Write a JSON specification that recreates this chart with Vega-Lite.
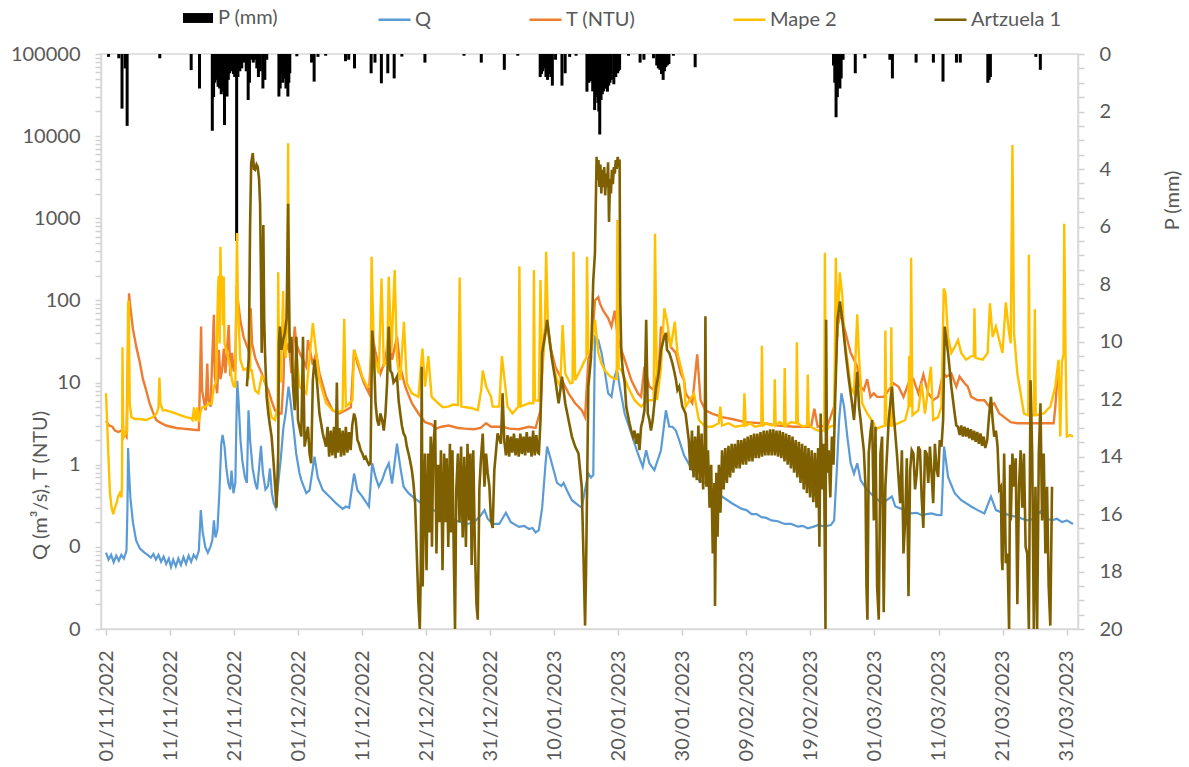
{
"$schema":"https://vega.github.io/schema/vega-lite/v6.json",
"width":977,"height":575,
"autosize":"none",
"padding":{"left":101,"top":54,"right":111,"bottom":138},
"background":"white",
"config":{
"font":"Lato",
"view":{"stroke":"#d9d9d9","strokeWidth":1.5},
"axis":{"labelFont":"Lato","labelFontSize":20,"labelColor":"#595959","titleFont":"Lato","titleFontSize":20,"titleColor":"#595959","titleFontWeight":"normal","domainColor":"#d9d9d9","domainWidth":1.5,"tickColor":"#d0d0d0","tickWidth":1.5,"tickSize":6,"labelPadding":15,"grid":false},
"legend":{"labelFont":"Lato","labelFontSize":20,"labelColor":"#595959"}
},
"datasets":{
"P":[{"d":0.4,"p":0.1},{"d":2.0,"p":0.15},{"d":2.5,"p":1.9},{"d":3.0,"p":0.5},{"d":3.3,"p":2.5},{"d":8.4,"p":0.15},{"d":13.3,"p":0.56},{"d":14.6,"p":1.2},{"d":16.6,"p":2.67},{"d":16.8,"p":1.5},{"d":17.0,"p":1.0},{"d":17.25,"p":0.9},{"d":17.5,"p":1.14},{"d":17.75,"p":1.2},{"d":18.0,"p":1.4},{"d":18.25,"p":1.3},{"d":18.5,"p":2.47},{"d":18.7,"p":1.0},{"d":18.9,"p":1.48},{"d":19.1,"p":0.9},{"d":19.3,"p":0.67},{"d":19.5,"p":0.6},{"d":19.7,"p":0.55},{"d":19.9,"p":0.7},{"d":20.1,"p":0.8},{"d":20.4,"p":6.5},{"d":20.6,"p":0.8},{"d":20.9,"p":0.6},{"d":21.2,"p":0.5},{"d":21.6,"p":0.3},{"d":21.9,"p":0.6},{"d":22.2,"p":1.6},{"d":22.4,"p":1.0},{"d":22.6,"p":0.2},{"d":23.0,"p":0.3},{"d":23.3,"p":0.2},{"d":23.55,"p":0.5},{"d":23.8,"p":0.8},{"d":24.1,"p":0.6},{"d":24.5,"p":1.2},{"d":24.8,"p":0.9},{"d":25.1,"p":0.2},{"d":27.0,"p":1.48},{"d":27.2,"p":1.2},{"d":27.4,"p":0.67},{"d":27.6,"p":1.0},{"d":27.9,"p":0.85},{"d":28.1,"p":1.2},{"d":28.4,"p":1.48},{"d":28.55,"p":1.0},{"d":28.7,"p":0.67},{"d":29.8,"p":0.08},{"d":32.1,"p":0.3},{"d":32.5,"p":0.96},{"d":33.1,"p":0.1},{"d":34.3,"p":0.06},{"d":37.4,"p":0.25},{"d":37.9,"p":0.2},{"d":38.8,"p":0.5},{"d":41.4,"p":0.67},{"d":42.0,"p":0.3},{"d":43.0,"p":1.02},{"d":44.0,"p":0.67},{"d":45.0,"p":0.85},{"d":46.2,"p":0.09},{"d":49.8,"p":0.3},{"d":55.9,"p":0.06},{"d":58.6,"p":0.3},{"d":62.2,"p":0.55},{"d":64.3,"p":0.06},{"d":67.8,"p":0.8},{"d":68.0,"p":0.7},{"d":68.2,"p":0.6},{"d":68.45,"p":0.5},{"d":68.7,"p":0.8},{"d":68.95,"p":0.9},{"d":69.2,"p":0.7},{"d":69.45,"p":0.8},{"d":69.7,"p":1.1},{"d":70.2,"p":0.2},{"d":71.2,"p":1.1},{"d":71.7,"p":0.67},{"d":72.4,"p":0.1},{"d":73.4,"p":0.06},{"d":75.1,"p":1.31},{"d":75.4,"p":1.0},{"d":75.7,"p":0.95},{"d":76.0,"p":1.3},{"d":76.3,"p":1.95},{"d":76.55,"p":1.5},{"d":76.8,"p":1.7},{"d":76.95,"p":2.0},{"d":77.1,"p":2.8},{"d":77.3,"p":1.6},{"d":77.5,"p":1.4},{"d":77.7,"p":1.3},{"d":77.9,"p":1.2},{"d":78.1,"p":1.2},{"d":78.3,"p":1.31},{"d":78.5,"p":1.1},{"d":78.7,"p":1.0},{"d":78.9,"p":0.9},{"d":79.3,"p":1.05},{"d":79.6,"p":0.8},{"d":79.9,"p":0.67},{"d":80.0,"p":0.6},{"d":80.2,"p":0.55},{"d":81.6,"p":0.06},{"d":83.4,"p":0.3},{"d":84.0,"p":0.2},{"d":85.5,"p":0.15},{"d":86.0,"p":0.4},{"d":86.25,"p":0.5},{"d":86.5,"p":0.55},{"d":86.75,"p":0.7},{"d":87.0,"p":0.9},{"d":87.2,"p":0.6},{"d":87.4,"p":0.46},{"d":87.65,"p":0.4},{"d":87.9,"p":0.35},{"d":88.6,"p":0.06},{"d":92.0,"p":0.46},{"d":113.6,"p":0.4},{"d":113.8,"p":1.0},{"d":114.0,"p":2.2},{"d":114.2,"p":1.5},{"d":114.4,"p":1.0},{"d":114.6,"p":1.2},{"d":114.8,"p":0.85},{"d":115.1,"p":0.2},{"d":117.0,"p":0.67},{"d":118.5,"p":0.15},{"d":122.4,"p":0.2},{"d":122.8,"p":0.85},{"d":126.5,"p":0.3},{"d":129.2,"p":0.3},{"d":130.7,"p":0.96},{"d":132.8,"p":0.3},{"d":133.4,"p":0.3},{"d":137.7,"p":1.0},{"d":137.9,"p":0.9},{"d":138.1,"p":0.8},{"d":145.2,"p":0.1},{"d":145.9,"p":0.55}],
"Q":[{"d":0,"v":0.085},{"d":0.4,"v":0.07},{"d":0.8,"v":0.08},{"d":1.2,"v":0.065},{"d":1.6,"v":0.078},{"d":2.0,"v":0.068},{"d":2.4,"v":0.08},{"d":2.8,"v":0.072},{"d":3.2,"v":0.09},{"d":3.35,"v":0.3},{"d":3.45,"v":1.6},{"d":3.6,"v":0.8},{"d":3.8,"v":0.4},{"d":4.2,"v":0.2},{"d":4.7,"v":0.12},{"d":5.3,"v":0.095},{"d":6.0,"v":0.085},{"d":6.5,"v":0.08},{"d":7.0,"v":0.074},{"d":7.4,"v":0.082},{"d":7.8,"v":0.07},{"d":8.2,"v":0.08},{"d":8.6,"v":0.066},{"d":9.0,"v":0.076},{"d":9.4,"v":0.062},{"d":9.8,"v":0.072},{"d":10.15,"v":0.057},{"d":10.5,"v":0.07},{"d":10.9,"v":0.058},{"d":11.3,"v":0.072},{"d":11.7,"v":0.06},{"d":12.1,"v":0.075},{"d":12.5,"v":0.062},{"d":12.9,"v":0.078},{"d":13.3,"v":0.066},{"d":13.7,"v":0.08},{"d":14.1,"v":0.072},{"d":14.5,"v":0.09},{"d":14.8,"v":0.28},{"d":15.1,"v":0.15},{"d":15.5,"v":0.1},{"d":15.9,"v":0.085},{"d":16.3,"v":0.1},{"d":16.6,"v":0.12},{"d":16.85,"v":0.21},{"d":17.1,"v":0.13},{"d":17.4,"v":0.16},{"d":17.7,"v":0.45},{"d":18.0,"v":1.8},{"d":18.2,"v":2.3},{"d":18.5,"v":1.7},{"d":18.8,"v":0.9},{"d":19.1,"v":0.6},{"d":19.4,"v":0.5},{"d":19.6,"v":0.85},{"d":19.9,"v":0.45},{"d":20.2,"v":0.6},{"d":20.35,"v":3},{"d":20.5,"v":10.5},{"d":20.7,"v":6},{"d":21.0,"v":2},{"d":21.3,"v":1.1},{"d":21.7,"v":0.7},{"d":22.0,"v":0.6},{"d":22.25,"v":4.6},{"d":22.5,"v":2},{"d":22.9,"v":0.9},{"d":23.3,"v":0.6},{"d":23.6,"v":0.5},{"d":23.9,"v":0.9},{"d":24.2,"v":1.7},{"d":24.5,"v":0.8},{"d":24.9,"v":0.5},{"d":25.3,"v":0.55},{"d":25.6,"v":0.9},{"d":25.9,"v":0.45},{"d":26.2,"v":0.34},{"d":26.5,"v":0.3},{"d":26.9,"v":0.6},{"d":27.3,"v":1.2},{"d":27.7,"v":2.8},{"d":28.1,"v":4.5},{"d":28.5,"v":8.9},{"d":28.8,"v":6},{"d":29.2,"v":3.2},{"d":29.7,"v":1.37},{"d":30.2,"v":0.8},{"d":30.5,"v":0.65},{"d":31.27,"v":0.45},{"d":31.79,"v":0.49},{"d":32.56,"v":1.25},{"d":33.07,"v":0.7},{"d":33.85,"v":0.49},{"d":34.88,"v":0.41},{"d":35.91,"v":0.34},{"d":36.94,"v":0.29},{"d":37.45,"v":0.31},{"d":37.97,"v":0.3},{"d":38.74,"v":0.78},{"d":39.26,"v":0.49},{"d":40.03,"v":0.41},{"d":41.06,"v":0.31},{"d":41.57,"v":1.04},{"d":42.09,"v":0.71},{"d":42.6,"v":0.54},{"d":43.12,"v":0.65},{"d":43.64,"v":0.86},{"d":44.15,"v":1.04},{"d":44.67,"v":0.59},{"d":45.44,"v":1.8},{"d":45.95,"v":0.94},{"d":46.47,"v":0.54},{"d":47.24,"v":0.45},{"d":48.0,"v":0.4},{"d":48.8,"v":0.36},{"d":49.6,"v":0.32},{"d":50.5,"v":0.3},{"d":51.5,"v":0.27},{"d":52.5,"v":0.25},{"d":53.5,"v":0.23},{"d":54.5,"v":0.21},{"d":55.5,"v":0.2},{"d":56.5,"v":0.19},{"d":57.5,"v":0.2},{"d":58.5,"v":0.24},{"d":59.1,"v":0.28},{"d":59.6,"v":0.22},{"d":60.38,"v":0.19},{"d":61.41,"v":0.19},{"d":62.44,"v":0.26},{"d":63.21,"v":0.2},{"d":64.5,"v":0.175},{"d":65.3,"v":0.18},{"d":66.05,"v":0.165},{"d":66.6,"v":0.17},{"d":67.08,"v":0.15},{"d":67.59,"v":0.16},{"d":68.11,"v":0.3},{"d":68.62,"v":1.0},{"d":68.88,"v":1.66},{"d":69.4,"v":1.2},{"d":70.43,"v":0.6},{"d":71.1,"v":0.55},{"d":71.46,"v":0.6},{"d":71.97,"v":0.49},{"d":72.75,"v":0.37},{"d":73.78,"v":0.32},{"d":74.29,"v":0.3},{"d":74.81,"v":0.5},{"d":75.32,"v":0.78},{"d":75.73,"v":0.7},{"d":76.09,"v":0.75},{"d":76.35,"v":36},{"d":76.87,"v":33},{"d":77.38,"v":23},{"d":77.9,"v":13.5},{"d":78.41,"v":7.4},{"d":78.93,"v":6.7},{"d":79.44,"v":12},{"d":79.8,"v":14.5},{"d":80.22,"v":8.9},{"d":80.99,"v":4.2},{"d":82.02,"v":2.4},{"d":83.05,"v":1.37},{"d":83.82,"v":0.94},{"d":84.34,"v":1.5},{"d":84.85,"v":1.04},{"d":85.63,"v":0.86},{"d":86.66,"v":1.5},{"d":87.43,"v":4.6},{"d":87.95,"v":2.9},{"d":88.46,"v":2.9},{"d":88.98,"v":2.6},{"d":89.5,"v":2.0},{"d":90.26,"v":1.3},{"d":91.55,"v":0.86},{"d":92.58,"v":0.65},{"d":93.61,"v":0.6},{"d":94.64,"v":0.49},{"d":96.19,"v":0.41},{"d":97.73,"v":0.34},{"d":99.28,"v":0.29},{"d":100.0,"v":0.28},{"d":100.82,"v":0.25},{"d":101.6,"v":0.25},{"d":102.37,"v":0.23},{"d":103.1,"v":0.225},{"d":103.92,"v":0.21},{"d":104.9,"v":0.205},{"d":105.98,"v":0.19},{"d":107.0,"v":0.19},{"d":108.04,"v":0.176},{"d":108.8,"v":0.18},{"d":109.58,"v":0.168},{"d":110.4,"v":0.175},{"d":111.13,"v":0.184},{"d":112.2,"v":0.178},{"d":113.19,"v":0.184},{"d":113.7,"v":0.21},{"d":114.12,"v":0.86},{"d":114.48,"v":3.5},{"d":114.84,"v":7.4},{"d":115.25,"v":5.1},{"d":115.76,"v":2.2},{"d":116.28,"v":1.04},{"d":116.8,"v":0.78},{"d":117.31,"v":1.04},{"d":117.83,"v":0.65},{"d":118.86,"v":0.49},{"d":120.4,"v":0.38},{"d":121.19,"v":0.34},{"d":122.73,"v":0.41},{"d":123.25,"v":0.31},{"d":124.79,"v":0.28},{"d":125.82,"v":0.255},{"d":126.6,"v":0.26},{"d":127.37,"v":0.244},{"d":128.1,"v":0.25},{"d":128.91,"v":0.255},{"d":129.7,"v":0.245},{"d":130.46,"v":0.244},{"d":130.87,"v":1.66},{"d":131.49,"v":0.71},{"d":132.52,"v":0.45},{"d":133.55,"v":0.37},{"d":135.1,"v":0.31},{"d":136.1,"v":0.28},{"d":137.16,"v":0.255},{"d":138.19,"v":0.41},{"d":138.96,"v":0.28},{"d":140.25,"v":0.255},{"d":141.3,"v":0.24},{"d":142.31,"v":0.23},{"d":143.85,"v":0.21},{"d":145.0,"v":0.22},{"d":145.92,"v":0.27},{"d":146.95,"v":0.22},{"d":147.7,"v":0.21},{"d":148.49,"v":0.22},{"d":149.3,"v":0.2},{"d":150.04,"v":0.21},{"d":151,"v":0.19}],
"T":[{"d":0,"v":3.4},{"d":0.5,"v":3.0},{"d":1.0,"v":2.9},{"d":1.4,"v":2.6},{"d":1.9,"v":2.5},{"d":2.4,"v":2.6},{"d":2.9,"v":2.4},{"d":3.2,"v":2.2},{"d":3.45,"v":30},{"d":3.6,"v":122},{"d":3.75,"v":90},{"d":4.2,"v":45},{"d":4.74,"v":27},{"d":5.25,"v":18},{"d":5.77,"v":11},{"d":6.28,"v":8},{"d":6.8,"v":5.6},{"d":7.31,"v":4.4},{"d":7.83,"v":3.5},{"d":8.34,"v":3.3},{"d":9.37,"v":3.0},{"d":10.15,"v":2.9},{"d":11.0,"v":2.8},{"d":12.0,"v":2.75},{"d":13.0,"v":2.7},{"d":14.0,"v":2.65},{"d":14.5,"v":2.65},{"d":14.75,"v":20},{"d":14.85,"v":48},{"d":15.0,"v":8},{"d":15.56,"v":4.6},{"d":15.81,"v":17},{"d":16.0,"v":6},{"d":16.33,"v":5.1},{"d":16.84,"v":67},{"d":17.0,"v":12},{"d":17.36,"v":7.4},{"d":17.62,"v":25},{"d":17.87,"v":11},{"d":18.13,"v":14},{"d":18.39,"v":26},{"d":18.65,"v":13},{"d":18.9,"v":25},{"d":19.16,"v":50},{"d":19.42,"v":12},{"d":19.68,"v":23},{"d":19.94,"v":14},{"d":20.19,"v":14},{"d":20.4,"v":150},{"d":20.6,"v":100},{"d":20.97,"v":58},{"d":21.48,"v":36},{"d":21.99,"v":28},{"d":22.5,"v":22},{"d":22.6,"v":80},{"d":22.8,"v":30},{"d":23.3,"v":20},{"d":23.8,"v":16},{"d":24.31,"v":13},{"d":24.8,"v":10},{"d":25.35,"v":8.1},{"d":25.86,"v":6},{"d":26.38,"v":4.6},{"d":26.89,"v":4.2},{"d":27.4,"v":4.2},{"d":27.7,"v":10},{"d":27.92,"v":40},{"d":28.2,"v":25},{"d":28.44,"v":30},{"d":28.69,"v":23},{"d":28.95,"v":13},{"d":29.21,"v":25},{"d":29.47,"v":48},{"d":29.7,"v":30},{"d":30.24,"v":23},{"d":31.27,"v":15.6},{"d":31.53,"v":33},{"d":32.3,"v":16.5},{"d":32.82,"v":23},{"d":33.33,"v":13},{"d":34.36,"v":6.7},{"d":35.39,"v":4.6},{"d":36.42,"v":4.2},{"d":37.45,"v":4.6},{"d":38.23,"v":5},{"d":38.74,"v":25},{"d":39.26,"v":17},{"d":39.77,"v":12.9},{"d":40.29,"v":9.8},{"d":41.06,"v":7.4},{"d":41.57,"v":40},{"d":42.09,"v":23},{"d":42.86,"v":12.9},{"d":43.64,"v":19},{"d":44.15,"v":40},{"d":44.67,"v":19},{"d":45.44,"v":36},{"d":45.95,"v":15.6},{"d":46.73,"v":8.9},{"d":47.76,"v":5.6},{"d":48.79,"v":4.2},{"d":49.82,"v":3.3},{"d":50.85,"v":3.1},{"d":51.5,"v":2.75},{"d":52.39,"v":2.9},{"d":53.5,"v":3.0},{"d":54.97,"v":2.8},{"d":56.0,"v":2.75},{"d":57.54,"v":2.7},{"d":58.5,"v":2.8},{"d":59.35,"v":3.2},{"d":60.12,"v":2.9},{"d":61.93,"v":2.9},{"d":63.0,"v":2.75},{"d":64.5,"v":2.7},{"d":66.0,"v":2.9},{"d":67.08,"v":2.8},{"d":67.85,"v":4.6},{"d":68.37,"v":36},{"d":68.88,"v":58},{"d":69.4,"v":27},{"d":70.17,"v":15.6},{"d":71.2,"v":10.7},{"d":72.23,"v":7.4},{"d":73.26,"v":5.6},{"d":74.29,"v":4.6},{"d":74.81,"v":3.8},{"d":75.32,"v":19},{"d":75.84,"v":27},{"d":76.35,"v":100},{"d":76.87,"v":110},{"d":77.12,"v":92},{"d":77.64,"v":75},{"d":78.41,"v":61},{"d":78.93,"v":48},{"d":79.44,"v":75},{"d":79.96,"v":33},{"d":80.99,"v":19},{"d":82.02,"v":10.7},{"d":83.05,"v":7.4},{"d":83.56,"v":6.7},{"d":84.08,"v":15.6},{"d":84.85,"v":8.9},{"d":85.63,"v":8.1},{"d":86.4,"v":19},{"d":86.66,"v":48},{"d":87.17,"v":36},{"d":87.69,"v":40},{"d":88.2,"v":27},{"d":88.98,"v":23},{"d":89.75,"v":12.9},{"d":90.26,"v":10.7},{"d":90.52,"v":7.4},{"d":91.55,"v":5.6},{"d":92.32,"v":22},{"d":92.84,"v":6.1},{"d":93.61,"v":4.6},{"d":94.64,"v":4.2},{"d":96.19,"v":3.8},{"d":97.73,"v":3.6},{"d":99.79,"v":3.3},{"d":102.37,"v":3.2},{"d":104.95,"v":3.0},{"d":107.52,"v":2.9},{"d":110.1,"v":2.9},{"d":110.61,"v":4.8},{"d":111.13,"v":2.9},{"d":112.67,"v":3.0},{"d":113.7,"v":5.1},{"d":114.22,"v":48},{"d":114.73,"v":70},{"d":115.25,"v":48},{"d":115.76,"v":33},{"d":116.28,"v":23},{"d":116.8,"v":19},{"d":117.31,"v":15.6},{"d":117.83,"v":8.9},{"d":118.34,"v":8.1},{"d":118.86,"v":11},{"d":119.37,"v":6.7},{"d":119.89,"v":7.4},{"d":120.4,"v":6.7},{"d":120.67,"v":6.7},{"d":121.44,"v":6.7},{"d":122.22,"v":8.1},{"d":122.99,"v":9.8},{"d":123.76,"v":8.9},{"d":124.53,"v":6.7},{"d":125.31,"v":9.8},{"d":126.08,"v":11},{"d":126.85,"v":7.4},{"d":127.63,"v":12.5},{"d":128.4,"v":7.4},{"d":129.17,"v":6.1},{"d":129.94,"v":6.7},{"d":130.72,"v":13},{"d":131.23,"v":11.8},{"d":132.0,"v":12.9},{"d":132.78,"v":8.9},{"d":133.29,"v":11.8},{"d":134.07,"v":9.8},{"d":134.58,"v":8.9},{"d":135.1,"v":6.7},{"d":136.13,"v":6.1},{"d":137.16,"v":6.1},{"d":137.93,"v":5.1},{"d":138.7,"v":5.6},{"d":139.48,"v":4.2},{"d":140.25,"v":3.8},{"d":141.28,"v":3.3},{"d":142.31,"v":3.2},{"d":144.37,"v":3.2},{"d":146.43,"v":3.2},{"d":147.98,"v":3.2},{"d":148.23,"v":5},{"d":148.5,"v":10},{"d":148.8,"v":13}],
"M":[{"d":0,"v":7.4},{"d":0.2,"v":3},{"d":0.36,"v":1.37},{"d":0.62,"v":0.45},{"d":0.87,"v":0.3},{"d":1.13,"v":0.25},{"d":1.39,"v":0.3},{"d":1.65,"v":0.34},{"d":1.9,"v":0.41},{"d":2.16,"v":0.45},{"d":2.42,"v":0.4},{"d":2.5,"v":0.6},{"d":2.57,"v":27},{"d":2.68,"v":3},{"d":2.83,"v":2.2},{"d":3.09,"v":2.4},{"d":3.3,"v":2.6},{"d":3.45,"v":90},{"d":3.55,"v":100},{"d":3.71,"v":5.6},{"d":3.96,"v":3.8},{"d":4.5,"v":3.6},{"d":5.25,"v":3.6},{"d":6.28,"v":3.5},{"d":7.31,"v":3.8},{"d":7.9,"v":4.2},{"d":8.2,"v":5},{"d":8.34,"v":11.5},{"d":8.5,"v":5.6},{"d":8.86,"v":4.6},{"d":9.37,"v":4.6},{"d":10.15,"v":4.4},{"d":10.92,"v":4.2},{"d":11.69,"v":4},{"d":12.47,"v":3.8},{"d":13.24,"v":3.7},{"d":13.5,"v":3.5},{"d":13.75,"v":5},{"d":14.0,"v":3.4},{"d":14.27,"v":5},{"d":14.5,"v":3.3},{"d":14.78,"v":4.5},{"d":15.04,"v":5},{"d":15.56,"v":5.1},{"d":16.07,"v":5.6},{"d":16.5,"v":5.5},{"d":16.84,"v":8.9},{"d":17.2,"v":10},{"d":17.36,"v":48},{"d":17.5,"v":147},{"d":17.62,"v":200},{"d":17.75,"v":30},{"d":17.87,"v":450},{"d":18.0,"v":100},{"d":18.13,"v":200},{"d":18.25,"v":50},{"d":18.39,"v":194},{"d":18.5,"v":30},{"d":18.65,"v":27},{"d":18.9,"v":23},{"d":19.16,"v":19},{"d":19.42,"v":15},{"d":19.68,"v":10.7},{"d":19.94,"v":9},{"d":20.19,"v":8.9},{"d":20.35,"v":100},{"d":20.45,"v":660},{"d":20.6,"v":92},{"d":20.97,"v":19},{"d":21.48,"v":14.2},{"d":21.99,"v":15},{"d":22.25,"v":11},{"d":22.4,"v":80},{"d":22.55,"v":14},{"d":22.77,"v":14},{"d":23.28,"v":8},{"d":23.8,"v":7.4},{"d":24.31,"v":12},{"d":24.83,"v":10.7},{"d":25.35,"v":6},{"d":25.86,"v":3.8},{"d":26.38,"v":3.5},{"d":26.8,"v":5},{"d":26.89,"v":220},{"d":27.0,"v":23},{"d":27.3,"v":10},{"d":27.66,"v":130},{"d":27.8,"v":27},{"d":28.1,"v":20},{"d":28.3,"v":100},{"d":28.44,"v":8200},{"d":28.55,"v":40},{"d":28.69,"v":36},{"d":29.21,"v":14.2},{"d":29.47,"v":11},{"d":29.73,"v":23},{"d":30.24,"v":8.9},{"d":31.27,"v":7.4},{"d":32.3,"v":53},{"d":32.82,"v":23},{"d":33.33,"v":10.7},{"d":34.36,"v":5.6},{"d":35.39,"v":4.6},{"d":36.42,"v":4.4},{"d":36.94,"v":4.6},{"d":37.2,"v":60},{"d":37.45,"v":5.1},{"d":38.48,"v":6.1},{"d":38.74,"v":25},{"d":39.26,"v":19},{"d":40.03,"v":11.8},{"d":40.8,"v":8.9},{"d":41.32,"v":9},{"d":41.47,"v":341},{"d":41.83,"v":23},{"d":42.6,"v":12.9},{"d":43.02,"v":185},{"d":43.38,"v":15.6},{"d":43.89,"v":20},{"d":44.15,"v":194},{"d":44.56,"v":23},{"d":45.08,"v":234},{"d":45.44,"v":19},{"d":45.95,"v":10.7},{"d":46.52,"v":55},{"d":46.98,"v":9.8},{"d":47.76,"v":7.4},{"d":48.79,"v":6.7},{"d":49.41,"v":26},{"d":49.82,"v":8.9},{"d":50.33,"v":21},{"d":50.85,"v":6.7},{"d":51.88,"v":5.6},{"d":52.6,"v":5.0},{"d":53.42,"v":5.1},{"d":54.2,"v":5.4},{"d":54.97,"v":5.3},{"d":55.23,"v":190},{"d":55.48,"v":5.1},{"d":56.2,"v":5.0},{"d":57.03,"v":4.9},{"d":58.06,"v":4.6},{"d":58.58,"v":8},{"d":58.83,"v":14},{"d":59.35,"v":9},{"d":60.12,"v":6.7},{"d":60.38,"v":5.1},{"d":61.41,"v":5.1},{"d":61.82,"v":21},{"d":62.18,"v":11.8},{"d":62.7,"v":5.1},{"d":63.47,"v":4.2},{"d":64.4,"v":5.1},{"d":64.55,"v":260},{"d":64.76,"v":5.1},{"d":66.05,"v":5.6},{"d":66.72,"v":5.6},{"d":66.82,"v":234},{"d":66.97,"v":6.1},{"d":67.59,"v":6},{"d":67.85,"v":177},{"d":68.11,"v":12.9},{"d":68.52,"v":40},{"d":68.73,"v":390},{"d":69.04,"v":40},{"d":69.65,"v":19},{"d":70.43,"v":10.7},{"d":70.94,"v":9},{"d":71.3,"v":50},{"d":71.71,"v":12.9},{"d":72.49,"v":9.8},{"d":72.85,"v":10},{"d":73.0,"v":390},{"d":73.26,"v":10.7},{"d":74.03,"v":14},{"d":74.81,"v":19},{"d":75.01,"v":20},{"d":75.11,"v":340},{"d":75.32,"v":23},{"d":75.84,"v":25},{"d":76.35,"v":58},{"d":76.87,"v":23},{"d":77.38,"v":17},{"d":77.9,"v":14},{"d":78.67,"v":12},{"d":79.44,"v":11},{"d":79.75,"v":11},{"d":79.85,"v":950},{"d":80.06,"v":15},{"d":80.47,"v":14.2},{"d":81.5,"v":8.9},{"d":82.53,"v":6.1},{"d":83.56,"v":5.1},{"d":84.59,"v":6.1},{"d":85.52,"v":6.1},{"d":85.73,"v":650},{"d":86.04,"v":6.1},{"d":86.66,"v":15},{"d":87.17,"v":80},{"d":87.58,"v":58},{"d":88.2,"v":27},{"d":88.82,"v":55},{"d":89.23,"v":23},{"d":90.26,"v":10.7},{"d":90.52,"v":5.1},{"d":91.81,"v":7.4},{"d":92.58,"v":3.5},{"d":93.61,"v":2.9},{"d":94.64,"v":2.9},{"d":95.67,"v":3.2},{"d":95.93,"v":5.1},{"d":96.19,"v":3.0},{"d":97.2,"v":3.2},{"d":98.25,"v":2.9},{"d":99.54,"v":3.0},{"d":99.69,"v":7.4},{"d":99.9,"v":3.0},{"d":100.6,"v":3.2},{"d":101.34,"v":2.9},{"d":102.32,"v":3},{"d":102.42,"v":28},{"d":102.58,"v":3},{"d":103.2,"v":3.2},{"d":103.92,"v":3.0},{"d":104.33,"v":3.1},{"d":104.43,"v":11},{"d":104.58,"v":3.0},{"d":105.2,"v":3.3},{"d":105.87,"v":3.0},{"d":105.98,"v":15},{"d":106.13,"v":3.0},{"d":107.0,"v":3.3},{"d":107.78,"v":3.2},{"d":107.88,"v":31},{"d":108.04,"v":3.2},{"d":108.8,"v":2.9},{"d":109.48,"v":3.0},{"d":109.58,"v":12.5},{"d":109.74,"v":3.0},{"d":110.4,"v":2.8},{"d":111.13,"v":2.6},{"d":112.16,"v":2.6},{"d":112.26,"v":380},{"d":112.42,"v":2.6},{"d":113.0,"v":2.9},{"d":113.7,"v":3},{"d":113.96,"v":330},{"d":114.22,"v":36},{"d":114.58,"v":220},{"d":114.99,"v":111},{"d":115.25,"v":36},{"d":115.76,"v":19},{"d":116.28,"v":8.9},{"d":116.8,"v":7.4},{"d":117.31,"v":68},{"d":117.57,"v":21},{"d":118.08,"v":5.6},{"d":118.86,"v":4.2},{"d":119.89,"v":3.2},{"d":120.16,"v":2.6},{"d":120.5,"v":2.8},{"d":121.19,"v":2.9},{"d":121.6,"v":3},{"d":121.7,"v":43},{"d":121.86,"v":3},{"d":122.53,"v":3},{"d":122.63,"v":47},{"d":122.78,"v":3},{"d":123.76,"v":3.2},{"d":124.79,"v":3.5},{"d":125.31,"v":5},{"d":125.41,"v":21},{"d":125.62,"v":5},{"d":125.72,"v":330},{"d":125.93,"v":4},{"d":126.85,"v":4.6},{"d":127.37,"v":9.8},{"d":127.88,"v":4.2},{"d":128.81,"v":15.6},{"d":129.17,"v":3.5},{"d":129.94,"v":3.8},{"d":130.46,"v":5.1},{"d":130.82,"v":140},{"d":131.08,"v":122},{"d":131.49,"v":36},{"d":132.0,"v":23},{"d":132.52,"v":27},{"d":133.04,"v":33},{"d":133.55,"v":23},{"d":134.32,"v":19},{"d":135.1,"v":21},{"d":135.51,"v":21},{"d":135.61,"v":80},{"d":135.77,"v":20},{"d":136.9,"v":19},{"d":137.67,"v":23},{"d":138.03,"v":92},{"d":138.45,"v":36},{"d":138.96,"v":48},{"d":139.48,"v":33},{"d":139.99,"v":23},{"d":140.51,"v":95},{"d":141.02,"v":40},{"d":141.28,"v":30},{"d":141.54,"v":7800},{"d":141.79,"v":40},{"d":142.31,"v":12.9},{"d":142.82,"v":7.4},{"d":143.34,"v":4.2},{"d":144.01,"v":4},{"d":144.11,"v":360},{"d":144.27,"v":4},{"d":144.88,"v":4},{"d":145.04,"v":78},{"d":145.19,"v":4},{"d":146.43,"v":4.2},{"d":147.46,"v":5.1},{"d":148.23,"v":8.9},{"d":148.75,"v":19},{"d":149.01,"v":2.2},{"d":149.27,"v":18},{"d":149.52,"v":22},{"d":149.63,"v":860},{"d":149.83,"v":25},{"d":150.04,"v":2.2},{"d":150.55,"v":2.3},{"d":151,"v":2.2}],
"A":[{"d":22.0,"v":9},{"d":22.3,"v":20},{"d":22.5,"v":800},{"d":22.67,"v":4700},{"d":22.92,"v":6200},{"d":23.1,"v":4000},{"d":23.28,"v":3900},{"d":23.5,"v":4500},{"d":23.7,"v":4200},{"d":23.9,"v":3000},{"d":24.06,"v":1500},{"d":24.2,"v":200},{"d":24.31,"v":23},{"d":24.45,"v":100},{"d":24.57,"v":830},{"d":24.7,"v":60},{"d":24.83,"v":23},{"d":25.09,"v":6.6},{"d":25.35,"v":4.2},{"d":25.6,"v":3},{"d":25.86,"v":2.2},{"d":26.12,"v":1.2},{"d":26.38,"v":0.6},{"d":26.63,"v":0.3},{"d":26.89,"v":1.37},{"d":27.0,"v":30},{"d":27.15,"v":48},{"d":27.41,"v":25},{"d":27.66,"v":33},{"d":27.92,"v":40},{"d":28.2,"v":60},{"d":28.44,"v":1500},{"d":28.6,"v":100},{"d":28.69,"v":23},{"d":28.95,"v":36},{"d":29.21,"v":8.9},{"d":29.47,"v":4.6},{"d":29.73,"v":36},{"d":29.98,"v":3.5},{"d":30.5,"v":2.2},{"d":30.76,"v":36},{"d":31.01,"v":1.66},{"d":31.53,"v":2.9},{"d":31.79,"v":1.37},{"d":32.04,"v":1.04},{"d":32.3,"v":10.7},{"d":32.56,"v":19},{"d":32.92,"v":10.7},{"d":33.33,"v":4.2},{"d":33.85,"v":2.4},{"d":34.36,"v":1.66},{"d":34.6,"v":2.9},{"d":34.85,"v":1.25},{"d":35.1,"v":2.6},{"d":35.35,"v":1.3},{"d":35.6,"v":2.9},{"d":35.85,"v":1.2},{"d":36.05,"v":10},{"d":36.2,"v":1.4},{"d":36.45,"v":2.8},{"d":36.7,"v":1.25},{"d":36.95,"v":2.6},{"d":37.2,"v":1.3},{"d":37.45,"v":2.9},{"d":37.7,"v":1.4},{"d":37.95,"v":2.5},{"d":38.2,"v":1.5},{"d":38.45,"v":3},{"d":38.74,"v":4.2},{"d":39.0,"v":3.5},{"d":39.26,"v":2.0},{"d":39.5,"v":1.8},{"d":39.77,"v":1.5},{"d":40.03,"v":1.37},{"d":40.3,"v":1.2},{"d":40.55,"v":1.25},{"d":40.8,"v":1.1},{"d":41.06,"v":1.0},{"d":41.3,"v":1.04},{"d":41.57,"v":43},{"d":41.83,"v":23},{"d":42.09,"v":5.6},{"d":42.35,"v":3.5},{"d":42.6,"v":3.0},{"d":42.86,"v":4.2},{"d":43.12,"v":3.5},{"d":43.38,"v":2.6},{"d":43.64,"v":4.2},{"d":43.9,"v":10},{"d":44.15,"v":48},{"d":44.4,"v":14},{"d":44.67,"v":12.9},{"d":44.9,"v":10},{"d":45.18,"v":10.7},{"d":45.44,"v":11.8},{"d":45.7,"v":6},{"d":45.95,"v":4.2},{"d":46.2,"v":3.0},{"d":46.47,"v":2.4},{"d":46.73,"v":2.2},{"d":46.98,"v":1.66},{"d":47.24,"v":1.37},{"d":47.5,"v":1.1},{"d":47.76,"v":0.86},{"d":48.0,"v":0.6},{"d":48.27,"v":0.34},{"d":48.53,"v":0.083},{"d":48.79,"v":0.02},{"d":49.0,"v":0.01},{"d":49.15,"v":0.05},{"d":49.3,"v":15.6},{"d":49.45,"v":0.033},{"d":49.6,"v":0.2},{"d":49.8,"v":1.37},{"d":50.05,"v":0.052},{"d":50.3,"v":1.37},{"d":50.5,"v":0.15},{"d":50.7,"v":2.2},{"d":50.9,"v":0.1},{"d":51.1,"v":1.6},{"d":51.4,"v":3.5},{"d":51.6,"v":0.083},{"d":51.85,"v":1.0},{"d":52.1,"v":0.2},{"d":52.3,"v":1.5},{"d":52.55,"v":0.052},{"d":52.8,"v":1.37},{"d":53.0,"v":0.2},{"d":53.2,"v":1.2},{"d":53.45,"v":0.1},{"d":53.7,"v":1.8},{"d":53.9,"v":0.15},{"d":54.1,"v":1.5},{"d":54.3,"v":0.083},{"d":54.5,"v":0.01},{"d":54.7,"v":0.5},{"d":54.95,"v":1.37},{"d":55.2,"v":0.2},{"d":55.45,"v":1.66},{"d":55.7,"v":0.13},{"d":55.95,"v":1.25},{"d":56.2,"v":0.1},{"d":56.45,"v":1.8},{"d":56.7,"v":0.21},{"d":56.9,"v":1.37},{"d":57.1,"v":0.06},{"d":57.35,"v":1.5},{"d":57.6,"v":0.1},{"d":57.85,"v":0.02},{"d":58.05,"v":0.013},{"d":58.3,"v":0.5},{"d":58.55,"v":1.2},{"d":58.83,"v":2.4},{"d":59.1,"v":0.54},{"d":59.35,"v":1.37},{"d":59.6,"v":0.8},{"d":59.87,"v":0.54},{"d":60.12,"v":0.21},{"d":60.38,"v":0.17},{"d":60.64,"v":0.86},{"d":61.15,"v":2.4},{"d":61.67,"v":1.8},{"d":61.93,"v":7.4},{"d":62.18,"v":2.0},{"d":62.45,"v":1.3},{"d":62.7,"v":2.3},{"d":62.95,"v":1.25},{"d":63.2,"v":2.2},{"d":63.45,"v":1.4},{"d":63.7,"v":2.4},{"d":63.95,"v":1.3},{"d":64.2,"v":2.1},{"d":64.45,"v":1.25},{"d":64.7,"v":2.4},{"d":64.95,"v":1.35},{"d":65.2,"v":2.2},{"d":65.45,"v":1.3},{"d":65.7,"v":2.5},{"d":65.95,"v":1.4},{"d":66.2,"v":2.2},{"d":66.45,"v":1.25},{"d":66.7,"v":2.6},{"d":66.95,"v":1.3},{"d":67.2,"v":2.3},{"d":67.45,"v":1.4},{"d":67.6,"v":1.37},{"d":67.85,"v":3.5},{"d":68.11,"v":23},{"d":68.62,"v":40},{"d":68.88,"v":58},{"d":69.14,"v":40},{"d":69.65,"v":19},{"d":70.17,"v":10.7},{"d":70.68,"v":5.6},{"d":70.94,"v":8},{"d":71.2,"v":11.8},{"d":71.71,"v":5.6},{"d":72.23,"v":3.5},{"d":72.75,"v":2.2},{"d":73.26,"v":1.66},{"d":73.78,"v":1.37},{"d":74.14,"v":0.7},{"d":74.29,"v":0.54},{"d":74.55,"v":0.083},{"d":74.81,"v":0.011},{"d":74.96,"v":0.05},{"d":75.06,"v":0.21},{"d":75.32,"v":8.9},{"d":75.73,"v":20},{"d":76.09,"v":177},{"d":76.35,"v":374},{"d":76.61,"v":5600},{"d":76.75,"v":2900},{"d":76.9,"v":5100},{"d":77.05,"v":2400},{"d":77.2,"v":4500},{"d":77.35,"v":2000},{"d":77.5,"v":3900},{"d":77.65,"v":2400},{"d":77.8,"v":4200},{"d":77.95,"v":1900},{"d":78.1,"v":3500},{"d":78.25,"v":2400},{"d":78.4,"v":4800},{"d":78.55,"v":900},{"d":78.7,"v":3000},{"d":78.85,"v":2000},{"d":79.0,"v":3900},{"d":79.15,"v":2600},{"d":79.3,"v":4200},{"d":79.45,"v":3500},{"d":79.6,"v":5100},{"d":79.75,"v":4000},{"d":79.9,"v":5600},{"d":80.05,"v":4600},{"d":80.2,"v":5200},{"d":80.3,"v":100},{"d":80.47,"v":23},{"d":80.7,"v":14},{"d":80.99,"v":10},{"d":81.25,"v":5},{"d":81.5,"v":4},{"d":81.75,"v":3.2},{"d":82.02,"v":2.6},{"d":82.3,"v":2.2},{"d":82.53,"v":2.6},{"d":82.8,"v":1.8},{"d":83.05,"v":2.4},{"d":83.3,"v":1.5},{"d":83.56,"v":2.9},{"d":83.82,"v":3.5},{"d":84.08,"v":4.6},{"d":84.35,"v":58},{"d":84.6,"v":4.2},{"d":84.85,"v":3.5},{"d":85.1,"v":2.6},{"d":85.37,"v":3.5},{"d":85.63,"v":5.6},{"d":85.9,"v":8.9},{"d":86.15,"v":11},{"d":86.4,"v":15},{"d":86.66,"v":25},{"d":86.92,"v":30},{"d":87.17,"v":36},{"d":87.43,"v":40},{"d":87.6,"v":25},{"d":87.95,"v":23},{"d":88.2,"v":20},{"d":88.46,"v":17},{"d":88.7,"v":14},{"d":88.98,"v":11},{"d":89.23,"v":8.1},{"d":89.5,"v":8.9},{"d":90.0,"v":5.1},{"d":90.5,"v":4.2},{"d":91.0,"v":2.0},{"d":91.25,"v":0.86},{"d":91.5,"v":2.6},{"d":91.75,"v":0.7},{"d":92.0,"v":2.2},{"d":92.25,"v":0.65},{"d":92.5,"v":3.0},{"d":92.75,"v":0.6},{"d":93.0,"v":2.4},{"d":93.25,"v":0.5},{"d":93.5,"v":2.0},{"d":93.6,"v":64},{"d":93.75,"v":0.54},{"d":94.0,"v":1.5},{"d":94.25,"v":0.3},{"d":94.5,"v":1.0},{"d":94.75,"v":0.083},{"d":95.0,"v":0.6},{"d":95.1,"v":0.019},{"d":95.3,"v":0.8},{"d":95.5,"v":0.133},{"d":95.7,"v":1.0},{"d":95.95,"v":0.26},{"d":96.2,"v":1.5},{"d":96.45,"v":0.5},{"d":96.7,"v":1.6},{"d":96.95,"v":0.6},{"d":97.2,"v":1.7},{"d":97.45,"v":0.7},{"d":97.7,"v":1.8},{"d":97.95,"v":0.8},{"d":98.2,"v":1.8},{"d":98.45,"v":0.9},{"d":98.7,"v":2.0},{"d":98.95,"v":0.9},{"d":99.2,"v":2.0},{"d":99.45,"v":1.0},{"d":99.7,"v":2.1},{"d":99.95,"v":1.0},{"d":100.2,"v":2.2},{"d":100.45,"v":1.1},{"d":100.7,"v":2.3},{"d":100.95,"v":1.1},{"d":101.2,"v":2.4},{"d":101.45,"v":1.2},{"d":101.7,"v":2.4},{"d":101.95,"v":1.2},{"d":102.2,"v":2.5},{"d":102.45,"v":1.25},{"d":102.7,"v":2.6},{"d":102.95,"v":1.3},{"d":103.2,"v":2.6},{"d":103.45,"v":1.3},{"d":103.7,"v":2.7},{"d":103.95,"v":1.3},{"d":104.2,"v":2.7},{"d":104.45,"v":1.3},{"d":104.7,"v":2.6},{"d":104.95,"v":1.25},{"d":105.2,"v":2.6},{"d":105.45,"v":1.2},{"d":105.7,"v":2.5},{"d":105.95,"v":1.1},{"d":106.2,"v":2.4},{"d":106.45,"v":1.0},{"d":106.7,"v":2.3},{"d":106.95,"v":0.9},{"d":107.2,"v":2.2},{"d":107.45,"v":0.8},{"d":107.7,"v":2.0},{"d":107.95,"v":0.7},{"d":108.2,"v":1.9},{"d":108.45,"v":0.6},{"d":108.7,"v":1.8},{"d":108.95,"v":0.5},{"d":109.2,"v":1.7},{"d":109.45,"v":0.45},{"d":109.7,"v":1.6},{"d":109.95,"v":0.4},{"d":110.2,"v":1.5},{"d":110.45,"v":0.35},{"d":110.7,"v":1.4},{"d":110.95,"v":0.3},{"d":111.2,"v":1.6},{"d":111.4,"v":0.1},{"d":111.6,"v":4.2},{"d":111.85,"v":0.5},{"d":112.1,"v":1.8},{"d":112.35,"v":0.01},{"d":112.45,"v":58},{"d":112.6,"v":0.8},{"d":112.85,"v":1.5},{"d":113.1,"v":0.4},{"d":113.35,"v":2.2},{"d":113.6,"v":1.0},{"d":113.85,"v":5.6},{"d":114.22,"v":58},{"d":114.6,"v":97},{"d":114.99,"v":58},{"d":115.5,"v":23},{"d":116.0,"v":10.7},{"d":116.5,"v":5.6},{"d":116.8,"v":3.5},{"d":117.31,"v":13.5},{"d":117.6,"v":5},{"d":117.83,"v":3.5},{"d":118.1,"v":2.2},{"d":118.34,"v":1.5},{"d":118.6,"v":0.54},{"d":118.75,"v":0.033},{"d":118.9,"v":0.013},{"d":119.1,"v":1.37},{"d":119.4,"v":2.6},{"d":119.64,"v":3.5},{"d":119.9,"v":0.21},{"d":120.16,"v":2.9},{"d":120.41,"v":0.033},{"d":120.67,"v":0.013},{"d":120.93,"v":1.37},{"d":121.19,"v":2.2},{"d":121.44,"v":0.016},{"d":121.7,"v":0.54},{"d":122.22,"v":3.5},{"d":122.73,"v":8.9},{"d":122.99,"v":4.2},{"d":123.5,"v":1.37},{"d":124.02,"v":0.34},{"d":124.28,"v":1.5},{"d":124.53,"v":0.083},{"d":124.79,"v":0.21},{"d":125.05,"v":1.2},{"d":125.31,"v":0.025},{"d":125.57,"v":0.86},{"d":125.82,"v":1.5},{"d":126.08,"v":1.37},{"d":126.34,"v":0.5},{"d":126.6,"v":0.78},{"d":126.85,"v":1.66},{"d":127.11,"v":1.5},{"d":127.37,"v":0.4},{"d":127.63,"v":0.17},{"d":127.88,"v":1.5},{"d":128.14,"v":1.37},{"d":128.4,"v":0.6},{"d":128.66,"v":1.66},{"d":128.91,"v":0.8},{"d":129.17,"v":0.34},{"d":129.43,"v":1.8},{"d":129.69,"v":0.9},{"d":129.94,"v":0.71},{"d":130.2,"v":2.0},{"d":130.46,"v":1.66},{"d":130.72,"v":3.5},{"d":130.97,"v":48},{"d":131.49,"v":23},{"d":132.0,"v":8.9},{"d":132.52,"v":4.2},{"d":132.78,"v":3.0},{"d":133.04,"v":2.9},{"d":133.3,"v":2.3},{"d":133.55,"v":3.0},{"d":133.8,"v":2.2},{"d":134.05,"v":2.9},{"d":134.3,"v":2.2},{"d":134.55,"v":2.8},{"d":134.8,"v":2.1},{"d":135.05,"v":2.7},{"d":135.3,"v":2.0},{"d":135.55,"v":2.6},{"d":135.8,"v":1.9},{"d":136.05,"v":2.5},{"d":136.3,"v":1.8},{"d":136.55,"v":2.4},{"d":136.8,"v":1.7},{"d":137.05,"v":2.2},{"d":137.3,"v":1.6},{"d":137.6,"v":2.0},{"d":137.9,"v":4.0},{"d":138.19,"v":6.7},{"d":138.45,"v":3.5},{"d":138.7,"v":2.2},{"d":138.96,"v":2.6},{"d":139.22,"v":1.66},{"d":139.48,"v":0.5},{"d":139.73,"v":0.54},{"d":139.89,"v":0.07},{"d":139.99,"v":0.052},{"d":140.25,"v":1.37},{"d":140.51,"v":0.063},{"d":140.77,"v":0.083},{"d":141.02,"v":0.01},{"d":141.18,"v":1.0},{"d":141.28,"v":0.21},{"d":141.54,"v":1.37},{"d":141.79,"v":0.54},{"d":142.05,"v":1.2},{"d":142.31,"v":0.02},{"d":142.57,"v":0.54},{"d":142.82,"v":1.5},{"d":143.08,"v":0.3},{"d":143.34,"v":1.37},{"d":143.6,"v":0.1},{"d":143.85,"v":0.083},{"d":144.11,"v":0.01},{"d":144.37,"v":10.7},{"d":144.63,"v":1.37},{"d":144.88,"v":0.01},{"d":145.14,"v":0.54},{"d":145.4,"v":0.01},{"d":145.66,"v":1.37},{"d":145.92,"v":5.6},{"d":146.17,"v":0.21},{"d":146.43,"v":1.37},{"d":146.69,"v":0.083},{"d":146.95,"v":0.54},{"d":147.2,"v":0.033},{"d":147.46,"v":0.011},{"d":147.72,"v":0.54}]
},
"layer":[
{"data":{"name":"P"},
"mark":{"type":"bar","size":3,"clip":true},
"encoding":{
"x":{"field":"d","type":"quantitative","scale":{"domain":[0,151],"nice":false,"zero":false},
"axis":{"title":null,"values":[0,10,20,30,40,50,60,70,80,90,100,110,120,130,140,150],"labelAngle":270,"labelExpr":"timeFormat(datetime(2022,10,1+datum.value),'%d/%m/%Y')","labelOverlap":false,"labelBound":false}},
"y":{"field":"p","type":"quantitative","scale":{"domain":[0,20],"reverse":true,"nice":false},
"axis":{"orient":"right","title":"P (mm)","titleAngle":270,"titleX":94,"titleY":146,"titleBaseline":"middle","titleAlign":"center","values":[0,0.5,1,1.5,2,2.5,3,3.5,4,4.5,5,5.5,6,6.5,7,7.5,8,8.5,9,9.5,10,10.5,11,11.5,12,12.5,13,13.5,14,14.5,15,15.5,16,16.5,17,17.5,18,18.5,19,19.5,20],"labelExpr":"datum.value % 2 === 0 ? datum.value : ''","labelOverlap":false}},
"fill":{"datum":"P (mm)","type":"nominal","scale":{"range":["#000000"]},
"legend":{"orient":"none","legendX":82,"legendY":-51,"title":null,"padding":0,"symbolType":"M-1,-0.33H1V0.33H-1Z","symbolSize":900,"symbolStrokeWidth":0,"labelOffset":5,"labelFontSize":20,"labelColor":"#595959"}}
}},
{"layer":[
{"data":{"name":"Q"},"mark":{"type":"line","strokeWidth":2.2,"clip":true},
"encoding":{"x":{"field":"d","type":"quantitative"},
"y":{"field":"v","type":"quantitative","scale":{"type":"log","domain":[0.01,100000],"nice":false},
"axis":{"orient":"left","title":"Q (m³/s), T (NTU)","titleAngle":270,"titleX":-61,"titleY":431,"titleBaseline":"middle","titleAlign":"center","labelOverlap":false,
"values":[0.01,0.02,0.03,0.04,0.05,0.06,0.07,0.08,0.09,0.1,0.2,0.3,0.4,0.5,0.6,0.7,0.8,0.9,1,2,3,4,5,6,7,8,9,10,20,30,40,50,60,70,80,90,100,200,300,400,500,600,700,800,900,1000,2000,3000,4000,5000,6000,7000,8000,9000,10000,20000,30000,40000,50000,60000,70000,80000,90000,100000],
"labelExpr":"indexof([0.01,0.1,1,10,100,1000,10000,100000], datum.value) >= 0 ? (datum.value < 1 ? '0' : format(datum.value,'d')) : ''"}},
"color":{"datum":"Q","type":"nominal","scale":{"domain":["Q","T (NTU)","Mape 2","Artzuela 1"],"range":["#5B9BD5","#ED7D31","#FFC000","#7F6000"]},
"legend":{"orient":"none","legendX":276,"legendY":-52,"direction":"horizontal","columns":4,"title":null,"padding":0,"symbolType":"stroke","symbolSize":1024,"symbolStrokeWidth":2.5,"labelOffset":3,"columnPadding":92,"labelFontSize":20,"labelColor":"#595959"}}}},
{"data":{"name":"T"},"mark":{"type":"line","strokeWidth":2.4,"clip":true},
"encoding":{"x":{"field":"d","type":"quantitative"},"y":{"field":"v","type":"quantitative"},"color":{"datum":"T (NTU)","type":"nominal"}}},
{"data":{"name":"M"},"mark":{"type":"line","strokeWidth":2.4,"clip":true},
"encoding":{"x":{"field":"d","type":"quantitative"},"y":{"field":"v","type":"quantitative"},"color":{"datum":"Mape 2","type":"nominal"}}},
{"data":{"name":"A"},"mark":{"type":"line","strokeWidth":2.6,"clip":true},
"encoding":{"x":{"field":"d","type":"quantitative"},"y":{"field":"v","type":"quantitative"},"color":{"datum":"Artzuela 1","type":"nominal"}}}
]}
],
"resolve":{"scale":{"y":"independent"},"axis":{"y":"independent"}}
}
